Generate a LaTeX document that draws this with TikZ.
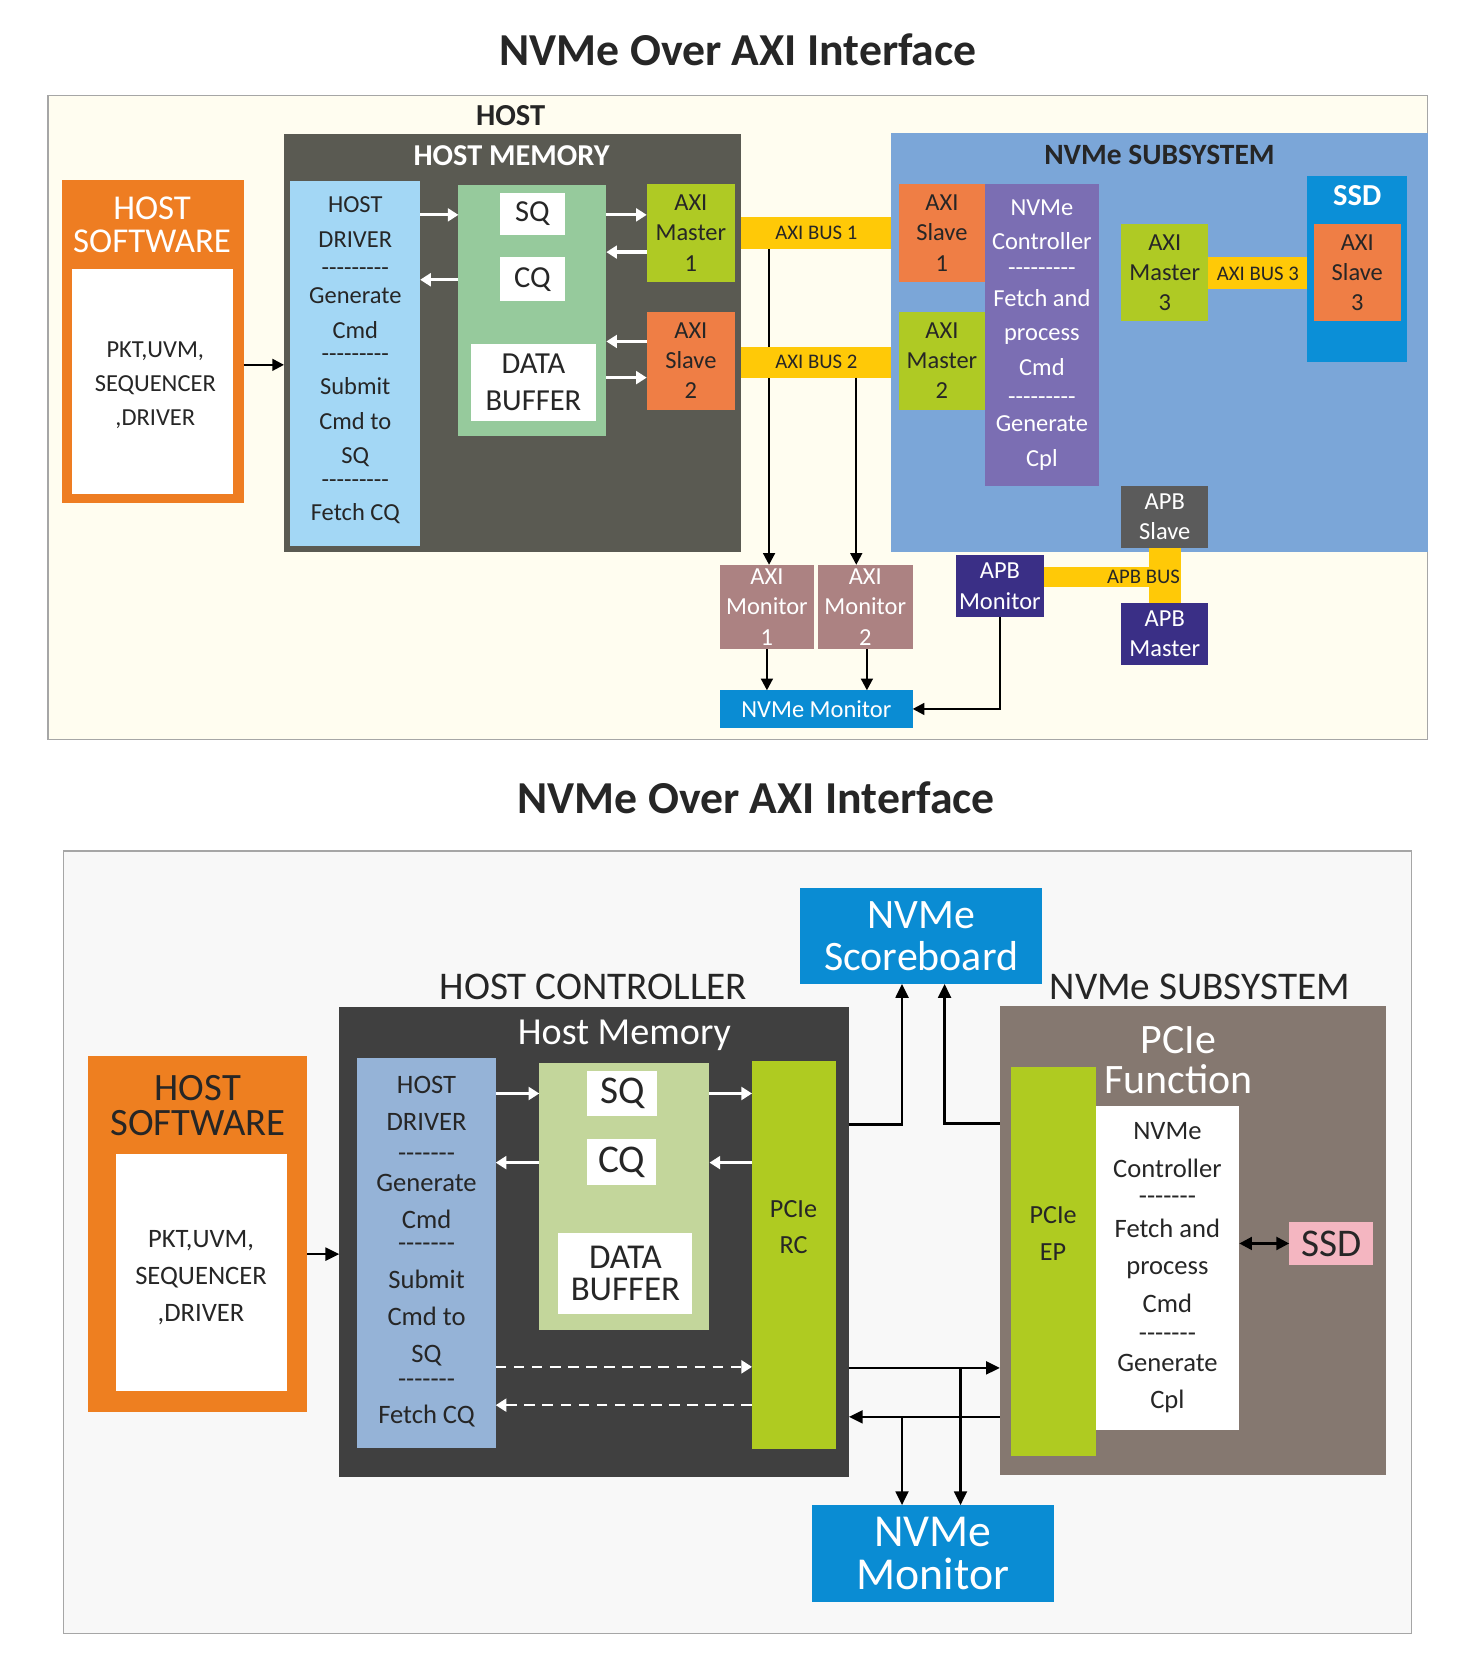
\documentclass[tikz,border=0pt]{standalone}
\usepackage{fontspec}
\setmainfont{Carlito}[Ligatures=TeXOff]
\usetikzlibrary{arrows.meta}
\pgfdeclarelayer{back}\pgfdeclarelayer{conn}\pgfsetlayers{back,conn,main}
\definecolor{cream}{HTML}{FFFDF0}
\definecolor{framegray}{HTML}{A6A6A6}
\definecolor{hostmem}{HTML}{5A5A52}
\definecolor{orangeA}{HTML}{EE7D22}
\definecolor{lblue}{HTML}{A3D7F5}
\definecolor{qgreen}{HTML}{96CA9C}
\definecolor{lime}{HTML}{AFCA24}
\definecolor{salmon}{HTML}{EF7E45}
\definecolor{busy}{HTML}{FFC907}
\definecolor{subblue}{HTML}{7BA6D8}
\definecolor{purp}{HTML}{7B6EB3}
\definecolor{ssdblue}{HTML}{0B8FD7}
\definecolor{apbgray}{HTML}{5B5B5B}
\definecolor{navy}{HTML}{3A2F86}
\definecolor{mauve}{HTML}{AC8282}
\definecolor{monblue}{HTML}{0A8CD3}
\definecolor{dark}{HTML}{262626}
\definecolor{frameB}{HTML}{F8F8F8}
\definecolor{dgray}{HTML}{404040}
\definecolor{bgray}{HTML}{95B3D7}
\definecolor{green2}{HTML}{C3D69B}
\definecolor{lime2}{HTML}{AFCB21}
\definecolor{taupe}{HTML}{857870}
\definecolor{pink}{HTML}{F4B6C1}
\definecolor{orangeB}{HTML}{EE7F20}
\newcommand\fs[2]{\fontsize{#1}{#2}\selectfont}
\newcommand\rbox[7]{\node[#1, minimum width={#5-#3}, minimum height={#6-#4}] (#2) at ({(#3+#5)/2},{(#4+#6)/2}) {#7};}
\tikzset{
  box/.style={rectangle, inner sep=0pt, outer sep=0pt, draw=none, align=center, text=dark},
  txt/.style={inner sep=0pt, outer sep=0pt, align=center, text=dark},
  axi/.style={box, font=\fs{23}{28.5}},
  blk/.style={-{Triangle[length=11pt,width=11pt]}, line width=2.2pt, black},
  blkb/.style={-{Triangle[length=13pt,width=12pt]}, line width=2.5pt, black},
  dbl/.style={{Triangle[length=12pt,width=12pt]}-{Triangle[length=12pt,width=12pt]}, line width=2.5pt, black},
  wht/.style={-{Triangle[length=10pt,width=12pt]}, line width=3pt, white},
  whtd/.style={-{Triangle[length=10pt,width=12pt]}, line width=2.5pt, white, dash pattern=on 10pt off 7pt},
}
\begin{document}
\begin{tikzpicture}[x=1pt,y=-1pt]
\begin{pgfonlayer}{back}
\fill[white] (0,0) rectangle (1390,1570);
\rbox{draw=framegray,line width=1.2pt,fill=cream,inner sep=0pt}{frameA}{45}{90}{1342}{695}{}
\rbox{draw=framegray,line width=1.2pt,fill=frameB,inner sep=0pt}{frameBx}{60}{800}{1327}{1536}{}
\end{pgfonlayer}
\useasboundingbox (0,0) rectangle (1390,1570);
% titles
\node[txt,font=\fs{43}{50}\bfseries] (titleA) at (694,47) {NVMe Over AXI Interface};
\node[txt,font=\fs{43}{50}\bfseries] (titleB) at (711,750) {NVMe Over AXI Interface};
% ================= TOP =================
\node[txt,font=\fs{28.7}{32}\bfseries] (hostlbl) at (480,109) {HOST};
\rbox{box,fill=hostmem}{hm}{267}{126}{697}{519}{}
\node[txt,text=white,font=\fs{28.5}{32}\bfseries] (hmlbl) at (481,146) {HOST MEMORY};
\rbox{box,fill=orangeA}{hs}{58}{169}{229}{473}{}
\node[txt,text=white,font=\fs{32.8}{31}] (hslbl) at (143,211.5) {HOST\\SOFTWARE};
\rbox{box,fill=white}{hsin}{68}{253}{219}{464}{}
\node[txt,font=\fs{23}{32}] (hstxt) at (146,362) {PKT,UVM,\\SEQUENCER\\,DRIVER};
\draw[blk] (hs.east |- 0,343) -- (hm.west |- 0,343);
\rbox{box,fill=lblue}{drv}{273}{170}{395}{513}{}
\node[txt,font=\fs{23}{32.5}] (drvtxt) at (334,338.5) {HOST\\DRIVER\\[-5.5pt]---------\\[-6.5pt]Generate\\Cmd\\[-10.5pt]---------\\[-1.5pt]Submit\\Cmd to\\SQ\\[-10.5pt]---------\\[-1.5pt]Fetch CQ};
\rbox{box,fill=qgreen}{qg}{431}{174}{570}{410}{}
\rbox{box,fill=white,font=\fs{28.7}{32}}{sq}{470}{181}{531}{221}{SQ}
\rbox{box,fill=white,font=\fs{28.7}{32}}{cq}{470}{242}{531}{283}{CQ}
\rbox{box,fill=white,font=\fs{28.7}{35}}{db}{443}{323}{560}{396}{DATA\\BUFFER}
\rbox{axi,fill=lime}{am1}{608}{173}{691}{265}{AXI\\Master\\1}
\rbox{axi,fill=salmon}{as2}{608}{293}{691}{385}{AXI\\Slave\\2}
\draw[wht] (drv.east |- 0,202) -- (qg.west |- 0,202);
\draw[wht] (qg.west |- 0,263) -- (drv.east |- 0,263);
\draw[wht] (qg.east |- 0,202) -- (am1.west |- 0,202);
\draw[wht] (am1.west |- 0,237) -- (qg.east |- 0,237);
\draw[wht] (as2.west |- 0,321) -- (qg.east |- 0,321);
\draw[wht] (qg.east |- 0,355) -- (as2.west |- 0,355);
\rbox{box,fill=busy,font=\fs{19.5}{22}}{bus1}{697}{204}{838}{234}{AXI BUS 1}
\rbox{box,fill=busy,font=\fs{19.5}{22}}{bus2}{697}{326}{838}{355}{AXI BUS 2}
\rbox{box,fill=subblue}{sub}{838}{125}{1342}{519}{}
\node[txt,font=\fs{27.7}{32}\bfseries] (sublbl) at (1090,146) {NVMe SUBSYSTEM};
\rbox{axi,fill=salmon}{as1}{845}{173}{926}{265}{AXI\\Slave\\1}
\rbox{axi,fill=lime}{am2}{845}{293}{926}{385}{AXI\\Master\\2}
\rbox{box,fill=purp,text=white,font=\fs{23}{32.5}}{ctl}{926}{173}{1033}{457}{NVMe\\Controller\\[-8.5pt]---------\\[-3.5pt]Fetch and\\process\\Cmd\\[-5.5pt]---------\\[-6.5pt]Generate\\Cpl}
\rbox{axi,fill=lime}{am3}{1054}{211}{1136}{302}{AXI\\Master\\3}
\rbox{box,fill=busy,font=\fs{19.5}{22}}{bus3}{1136}{242}{1229}{272}{AXI BUS 3}
\rbox{box,fill=ssdblue}{ssd}{1229}{165}{1323}{340}{}
\node[txt,text=white,font=\fs{28.7}{32}\bfseries] (ssdlbl) at (1276,184) {SSD};
\rbox{axi,fill=salmon}{as3}{1235}{211}{1317}{302}{AXI\\Slave\\3}
\rbox{axi,fill=apbgray,text=white}{apbs}{1054}{457}{1136}{515}{APB\\Slave}
\rbox{box,fill=busy}{apbh}{981}{533}{1110}{552}{}
\rbox{box,fill=busy}{apbv}{1080}{515}{1110}{567}{}
\node[txt,font=\fs{19.5}{22}] (apbtxt) at (1075,542) {APB BUS};
\rbox{axi,fill=navy,text=white}{apbmst}{1054}{567}{1136}{625}{APB\\Master}
\rbox{axi,fill=navy,text=white}{apbmon}{899}{522}{981}{580}{APB\\Monitor}
\rbox{axi,fill=mauve,text=white}{axm1}{677}{531}{765}{610}{AXI\\Monitor\\1}
\rbox{axi,fill=mauve,text=white}{axm2}{769}{531}{858}{610}{AXI\\Monitor\\2}
\rbox{box,fill=monblue,text=white,font=\fs{23}{26}}{nm}{677}{649}{858}{684}{NVMe Monitor}
\begin{pgfonlayer}{conn}
\draw[blk] (bus1.south -| 723,0) -- (axm1.north -| 723,0);
\end{pgfonlayer}
\draw[blk] (bus2.south -| 805,0) -- (axm2.north -| 805,0);
\draw[blk] (axm1.south -| 721,0) -- (nm.north -| 721,0);
\draw[blk] (axm2.south -| 815,0) -- (nm.north -| 815,0);
\draw[blk] (apbmon.south) |- (nm.east);
% ================= BOTTOM =================
\node[txt,font=\fs{36.9}{40}] (hclbl) at (558,928) {HOST CONTROLLER};
\node[txt,font=\fs{36.9}{40}] (nslbl) at (1128,928) {NVMe SUBSYSTEM};
\rbox{box,fill=dgray}{hmb}{319}{947}{798}{1389}{}
\node[txt,text=white,font=\fs{35.9}{40}] (hmblbl) at (587,973) {Host Memory};
\rbox{box,fill=orangeB}{hsb}{83}{993}{289}{1327}{}
\node[txt,font=\fs{36.4}{33}] (hsblbl) at (186,1039.5) {HOST\\SOFTWARE};
\rbox{box,fill=white}{hsbin}{109}{1085}{270}{1308}{}
\node[txt,font=\fs{25}{35}] (hsbtxt) at (189,1201) {PKT,UVM,\\SEQUENCER\\,DRIVER};
\draw[blkb] (hsb.east |- 0,1179) -- (hmb.west |- 0,1179);
\rbox{box,fill=bgray}{drvb}{336}{995}{466}{1361}{}
\node[txt,font=\fs{25}{35}] (drvbtxt) at (401,1176.5) {HOST\\DRIVER\\[-6pt]-------\\[-7pt]Generate\\Cmd\\[-13pt]-------\\[-1pt]Submit\\Cmd to\\SQ\\[-12pt]-------\\[-1pt]Fetch CQ};
\rbox{box,fill=green2}{gb}{507}{999}{667}{1250}{}
\rbox{box,fill=white,font=\fs{36.9}{40}}{sqb}{552}{1007}{618}{1049}{SQ}
\rbox{box,fill=white,font=\fs{36.9}{40}}{cqb}{552}{1071}{617}{1114}{CQ}
\rbox{box,fill=white,font=\fs{32.8}{30}}{dbb}{525}{1159}{651}{1235}{DATA\\BUFFER}
\rbox{box,fill=lime2}{rc}{707}{997}{786}{1362}{}
\node[txt,font=\fs{24.6}{34}] (rctxt) at (746,1153.5) {PCIe\\RC};
\draw[wht] (drvb.east |- 0,1028) -- (gb.west |- 0,1028);
\draw[wht] (gb.west |- 0,1093) -- (drvb.east |- 0,1093);
\draw[wht] (gb.east |- 0,1028) -- (rc.west |- 0,1028);
\draw[wht] (rc.west |- 0,1093) -- (gb.east |- 0,1093);
\draw[whtd] (drvb.east |- 0,1285) -- (rc.west |- 0,1285);
\draw[whtd] (rc.west |- 0,1321) -- (drvb.east |- 0,1321);
\rbox{box,fill=monblue,text=white,font=\fs{39.4}{39}}{sb}{752}{835}{980}{925}{NVMe\\Scoreboard}
\rbox{box,fill=taupe}{subb}{940}{946}{1303}{1387}{}
\node[txt,text=white,font=\fs{39.4}{37}] (pflbl) at (1108,996.5) {PCIe\\Function};
\rbox{box,fill=lime2}{ep}{950}{1003}{1030}{1369}{}
\node[txt,font=\fs{24.6}{35}] (eptxt) at (990,1159.5) {PCIe\\EP};
\rbox{box,fill=white,font=\fs{25}{35}}{ctlb}{1030}{1040}{1165}{1344}{NVMe\\Controller\\[-9pt]-------\\[-4pt]Fetch and\\process\\Cmd\\[-7pt]-------\\[-7pt]Generate\\Cpl}
\rbox{box,fill=pink,font=\fs{36.9}{40}}{ssdb}{1212}{1149}{1291}{1189}{SSD}
\draw[dbl] (ctlb.east |- ssdb.west) -- (ssdb.west);
\rbox{box,fill=monblue,text=white,font=\fs{43}{40}}{nmb}{763}{1415}{991}{1506}{NVMe\\Monitor}
\draw[blkb] (hmb.east |- 0,1057) -| (sb.south -| 848,0);
\draw[blkb] (subb.west |- 0,1056) -| (sb.south -| 888,0);
\draw[blkb] (hmb.east |- 0,1286) -- (subb.west |- 0,1286);
\draw[blkb] (subb.west |- 0,1332) -- (hmb.east |- 0,1332);
\coordinate (j1) at (848,1332);
\coordinate (j2) at (903,1286);
\draw[blkb] (j1) -- (nmb.north -| j1);
\draw[blkb] (j2) -- (nmb.north -| j2);
\end{tikzpicture}
\end{document}
